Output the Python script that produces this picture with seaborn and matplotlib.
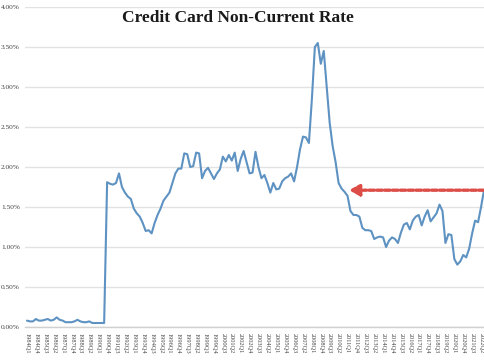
import numpy as np
import pandas as pd
import seaborn as sns
import matplotlib
matplotlib.use("Agg")
import matplotlib.pyplot as plt

# Quarterly non-current rate (%), 1984Q1 .. 2022Q3
rate = [
    0.08, 0.07, 0.07, 0.10, 0.08, 0.08, 0.09, 0.10, 0.08, 0.09,
    0.12, 0.09, 0.08, 0.06, 0.06, 0.06, 0.07, 0.09, 0.07, 0.06,
    0.06, 0.07, 0.05, 0.05, 0.05, 0.05, 0.05,
    1.81, 1.79, 1.78, 1.80, 1.92, 1.75, 1.68, 1.63, 1.60, 1.48,
    1.42, 1.38, 1.30, 1.20, 1.21, 1.17, 1.30, 1.40, 1.48, 1.58,
    1.63, 1.68, 1.80, 1.92, 1.98, 1.98, 2.17, 2.16, 2.00, 2.01,
    2.18, 2.17, 1.86, 1.95, 1.99, 1.92, 1.85, 1.92, 1.97, 2.13,
    2.07, 2.15, 2.08, 2.18, 1.95, 2.10, 2.20, 2.06, 1.92, 1.93,
    2.19, 2.00, 1.86, 1.90, 1.80, 1.68, 1.80, 1.72, 1.73, 1.82,
    1.86, 1.88, 1.92, 1.82, 2.00, 2.22, 2.38, 2.37, 2.30, 2.85,
    3.50, 3.55, 3.29, 3.45, 3.00, 2.55, 2.26, 2.06, 1.80, 1.73,
    1.69, 1.64, 1.45, 1.40, 1.40, 1.38, 1.24, 1.21, 1.21, 1.20,
    1.10, 1.12, 1.13, 1.12, 1.00, 1.08, 1.12, 1.10, 1.05, 1.18,
    1.28, 1.30, 1.22, 1.33, 1.38, 1.40, 1.27, 1.38, 1.46, 1.32,
    1.37, 1.42, 1.53, 1.45, 1.05, 1.16, 1.15, 0.85, 0.78, 0.82,
    0.90, 0.87, 0.98, 1.17, 1.33, 1.31, 1.50, 1.71,
]
quarters = [f"{1984 + k // 4}Q{k % 4 + 1}" for k in range(len(rate))]
tick_every = 3
yticks = [0, 0.5, 1.0, 1.5, 2.0, 2.5, 3.0, 3.5, 4.0]
title = "Credit Card Non-Current Rate"
arrow_from_q = "2022Q3"
arrow_to_q = "2011Q1"

df = pd.DataFrame({"idx": np.arange(len(rate)), "rate": rate, "q": quarters})

sns.set_theme(style="white")
plt.rcParams["font.family"] = ["Liberation Serif", "DejaVu Serif"]

fig = plt.figure(figsize=(4.85, 3.6), dpi=100)
ax = fig.add_axes([25.5 / 485, 1 - 327 / 360, 460 / 485, 320 / 360])

for yv in yticks:
    ax.axhline(yv, color="#e2e2e2", lw=1.0, zorder=0)

sns.lineplot(data=df, x="idx", y="rate", ax=ax, color="#5e92c2", lw=1.5)

i_from = quarters.index(arrow_from_q)
i_to = quarters.index(arrow_to_q) + 0.5
yv = rate[i_from]
ax.annotate("", xy=(i_to, yv), xytext=(i_from, yv),
            arrowprops=dict(arrowstyle="-|>,head_length=0.5,head_width=0.28",
                            color="#dd4d47", lw=2.4, linestyle=(0, (1.6, 0.75)),
                            shrinkA=0, shrinkB=0), zorder=5)

ax.set_xlim(-0.5, len(rate) - 0.5)
ax.set_ylim(0, 4.0)
ax.set_yticks(yticks)
ax.set_yticklabels([f"{v:.2f}%" for v in yticks], fontsize=5.3, color="#444444")
tk = list(range(0, len(rate), tick_every))
ax.set_xticks(tk)
ax.set_xticklabels([quarters[k] for k in tk], rotation=270, fontsize=4.6,
                   color="#444444")
ax.tick_params(axis="y", length=0, pad=4)
ax.tick_params(axis="x", length=0, pad=4)
ax.set_xlabel("")
ax.set_ylabel("")
for s in ["top", "right", "left"]:
    ax.spines[s].set_visible(False)
ax.spines["bottom"].set_color("#d0d0d0")
ax.spines["bottom"].set_linewidth(1.0)

fig.text(238 / 485, 1 - 18 / 360, title, ha="center", va="center",
         fontsize=12.5, fontweight="bold", color="#1a1a1a")

fig.savefig("out.png", dpi=100)
